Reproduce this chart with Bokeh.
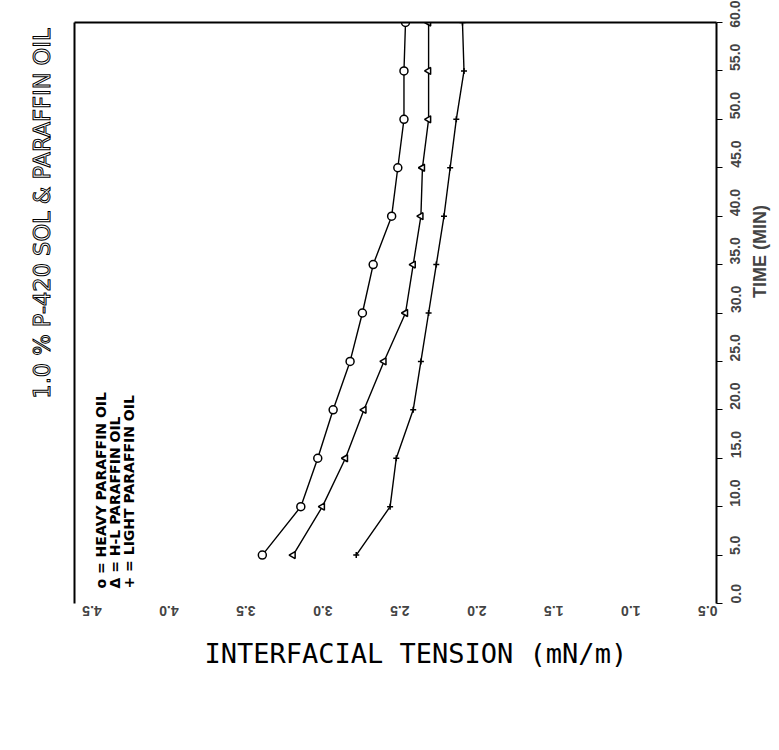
import math
from bokeh.plotting import figure
from bokeh.models import (Range1d, LinearAxis, FixedTicker, PrintfTickFormatter, Label, Title)
from bokeh.embed import file_html
from bokeh.resources import INLINE

# ---- data ----
time_min = [5, 10, 15, 20, 25, 30, 35, 40, 45, 50, 55, 60]
heavy = [3.33, 3.08, 2.97, 2.87, 2.76, 2.68, 2.61, 2.49, 2.45, 2.41, 2.41, 2.40]
hl = [3.13, 2.94, 2.79, 2.67, 2.54, 2.40, 2.35, 2.30, 2.29, 2.25, 2.25, 2.25]
light = [2.72, 2.50, 2.46, 2.35, 2.30, 2.25, 2.20, 2.15, 2.11, 2.07, 2.02, 2.03]

tension_ticks = [4.5, 4.0, 3.5, 3.0, 2.5, 2.0, 1.5, 1.0, 0.5]
time_ticks = [0, 5, 10, 15, 20, 25, 30, 35, 40, 45, 50, 55, 60]

title_text = "1.0 % P-420 SOL & PARAFFIN OIL"
xlabel = "INTERFACIAL TENSION (mN/m)"
ylabel = "TIME (MIN)"
legend_lines = ["o = HEAVY PARAFFIN OIL", "\u0394 = H-L PARAFFIN OIL", "+ = LIGHT PARAFFIN OIL"]

p = figure(frame_width=642, frame_height=581, output_backend="svg", toolbar_location=None,
           x_range=Range1d(4.55, 0.38), y_range=Range1d(0, 60),
           x_axis_location=None, y_axis_location=None,
           min_border_left=74, min_border_top=22, min_border_right=50, min_border_bottom=130)
p.outline_line_color = None
p.grid.visible = False
p.background_fill_color = "white"
p.border_fill_color = "white"

def bare(ax):
    ax.ticker = FixedTicker(ticks=[])
    ax.major_tick_line_color = None
    ax.minor_tick_line_color = None
    ax.axis_line_color = "black"
    ax.axis_line_width = 2
    return ax

left = bare(LinearAxis())
p.add_layout(left, "left")
top = bare(LinearAxis())
p.add_layout(top, "above")

right = LinearAxis(ticker=FixedTicker(ticks=time_ticks), formatter=PrintfTickFormatter(format="%.1f"))
right.axis_line_width = 2
right.major_tick_in = 0
right.major_tick_out = 6
right.minor_tick_line_color = None
right.major_label_orientation = math.pi / 2
right.major_label_text_font = "Liberation Sans"
right.major_label_text_font_style = "bold"
right.major_label_text_font_size = "14px"
right.major_label_standoff = 13
right.axis_label = "\u00a0" * 3 + ylabel
right.axis_label_text_font = "Liberation Sans"
right.axis_label_text_font_style = "bold"
right.axis_label_text_font_size = "18px"
right.axis_label_standoff = 11
try:
    right.axis_label_orientation = math.pi / 2
except Exception:
    right.axis_label = ylabel + "\u00a0" * 3
p.add_layout(right, "right")

bottom = LinearAxis(ticker=FixedTicker(ticks=tension_ticks), formatter=PrintfTickFormatter(format="%.1f"))
bottom.axis_line_color = None
bottom.major_tick_line_color = None
bottom.minor_tick_line_color = None
bottom.major_label_orientation = math.pi
bottom.major_label_text_font = "Liberation Sans"
bottom.major_label_text_font_style = "bold"
bottom.major_label_text_font_size = "14px"
bottom.major_label_standoff = 1
p.add_layout(bottom, "below")

xt = Title(text=xlabel, align="left", offset=130, text_font="DejaVu Sans Mono",
           text_font_size="27px", text_font_style="normal", text_color="black", standoff=24)
p.add_layout(xt, "below")

tt = Title(text=title_text, align="right", offset=6, text_font="DejaVu Sans",
           text_font_size="22.5px", text_font_style="normal", text_color="black", standoff=40)
try:
    tt.text_outline_color = "black"
    tt.text_color = "white"
except Exception:
    pass
p.add_layout(tt, "left")

# series
p.line(heavy, time_min, line_color="black", line_width=1.4)
p.line(hl, time_min, line_color="black", line_width=1.4)
p.line(light, time_min, line_color="black", line_width=1.4)
p.scatter(heavy, time_min, marker="circle", size=8, fill_color="white", line_color="black", line_width=1.5)
p.scatter(hl, time_min, marker="triangle", angle=math.pi / 2, size=7, fill_color="white", line_color="black", line_width=1.5)
p.scatter(light, time_min, marker="cross", size=6, line_color="black", line_width=1.5)

for i, t in enumerate(legend_lines):
    p.add_layout(Label(x=26 + 14 * i, y=15, x_units="screen", y_units="screen", text=t, angle=math.pi / 2,
                       text_align="left", text_baseline="middle", text_font="DejaVu Sans",
                       text_font_style="bold", text_font_size="14px", text_color="black"))

open("out.html", "w").write(file_html(p, INLINE))
